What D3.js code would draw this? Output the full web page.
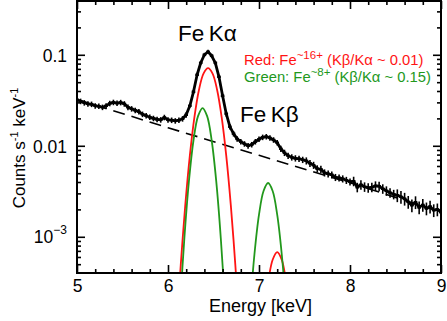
<!DOCTYPE html>
<html><head><meta charset="utf-8">
<script src="https://cdn.jsdelivr.net/npm/d3@7"></script>
<style>
body{margin:0;background:#fff;}
svg{display:block;font-family:"Liberation Sans",Arial,Helvetica,sans-serif;}
</style></head><body>
<svg id="c" width="447" height="321"></svg>
<script>
// ---- data ----
const xTicks = [5, 6, 7, 8, 9];
const xMinor = [5.2,5.4,5.6,5.8,6.2,6.4,6.6,6.8,7.2,7.4,7.6,7.8,8.2,8.4,8.6,8.8];
const yTicks = [0.1, 0.01, 0.001];
const yMinor = [0.0005,0.0006,0.0007,0.0008,0.0009,0.002,0.003,0.004,0.005,0.006,0.007,0.008,0.009,
                0.02,0.03,0.04,0.05,0.06,0.07,0.08,0.09,0.2,0.3];

const spectrumE = [5.00,5.04,5.08,5.12,5.16,5.20,5.24,5.28,5.32,5.36,5.40,5.44,5.48,5.52,5.56,5.60,5.64,5.68,5.72,5.76,
  5.80,5.84,5.88,5.92,5.96,6.00,6.04,6.08,6.12,6.16,6.20,6.24,6.28,6.32,6.36,6.40,6.44,6.48,6.52,6.56,
  6.60,6.64,6.68,6.72,6.76,6.80,6.84,6.88,6.92,6.96,7.00,7.04,7.08,7.12,7.16,7.20,7.24,7.28,7.32,7.36,
  7.40,7.44,7.48,7.52,7.56,7.60,7.64,7.68,7.72,7.76,7.80,7.84,7.88,7.92,7.96,8.00,8.04,8.08,8.12,8.16,
  8.20,8.24,8.28,8.32,8.36,8.40,8.44,8.48,8.52,8.56,8.60,8.64,8.68,8.72,8.76,8.80,8.84,8.88,8.92,8.96,9.00];
const spectrumCounts = [0.0320,0.0308,0.0297,0.0289,0.0286,0.0275,0.0272,0.0265,0.0275,0.0292,0.0300,0.0294,0.0299,0.0289,0.0265,0.0255,0.0245,0.0237,0.0222,0.0214,
  0.0206,0.0200,0.0195,0.0193,0.0205,0.0193,0.0191,0.0188,0.0191,0.0198,0.0219,0.0275,0.0392,0.0603,0.0817,0.100,0.108,0.0975,0.0817,0.0573,
  0.0354,0.0225,0.0162,0.0136,0.0119,0.0111,0.0105,0.0100,0.0103,0.0111,0.0118,0.0124,0.0126,0.0122,0.0116,0.0108,0.00927,0.00838,0.00777,0.00747,
  0.00729,0.00720,0.00702,0.00684,0.00642,0.00612,0.00560,0.00552,0.00505,0.00492,0.00480,0.00450,0.00445,0.00434,0.00418,0.00402,0.00408,0.00350,0.00373,0.00354,
  0.00346,0.00350,0.00363,0.00360,0.00337,0.00320,0.00305,0.00293,0.00286,0.00275,0.00262,0.00242,0.00222,0.00240,0.00210,0.00224,0.00205,0.00215,0.00196,0.00200,0.00186];
const spectrumRelErr = [0.07,0.07,0.07,0.07,0.07,0.07,0.07,0.07,0.07,0.07,0.07,0.07,0.07,0.07,0.07,0.07,0.07,0.07,0.07,0.07,
  0.07,0.07,0.07,0.07,0.07,0.07,0.07,0.07,0.07,0.07,0.07,0.05,0.05,0.05,0.05,0.05,0.05,0.05,0.05,0.05,
  0.05,0.07,0.07,0.07,0.07,0.07,0.07,0.07,0.07,0.07,0.07,0.07,0.07,0.07,0.07,0.07,0.08,0.08,0.08,0.08,
  0.08,0.08,0.08,0.09,0.09,0.09,0.09,0.09,0.09,0.09,0.09,0.09,0.09,0.09,0.09,0.09,0.12,0.12,0.12,0.12,
  0.12,0.12,0.12,0.12,0.12,0.12,0.12,0.12,0.16,0.16,0.16,0.16,0.16,0.16,0.16,0.16,0.16,0.16,0.16,0.16,0.16];

const continuumE = [5, 6, 7, 8, 9];
const continuumValues = [0.0323, 0.0158, 0.00785, 0.00392, 0.00188];

const redKaE = [6.10,6.14,6.19,6.24,6.29,6.34,6.39,6.44,6.49,6.54,6.59,6.64,6.69,6.74,6.78];
const redKaValues = [0.000118,0.000488,0.00224,0.00778,0.0205,0.0410,0.0622,0.0714,0.0622,0.0410,0.0205,0.00778,0.00224,0.000488,0.000118];
const greenKaE = [6.11,6.13,6.18,6.23,6.28,6.33,6.38,6.43,6.48,6.53,6.58,6.63,6.65];
const greenKaValues = [0.000065,0.000153,0.000971,0.00409,0.01143,0.02117,0.026,0.02117,0.01143,0.00409,0.000971,0.000153,0.000065];
const greenKbE = [6.88,6.90,6.95,7.00,7.05,7.10,7.15,7.20,7.25,7.30,7.32];
const greenKbValues = [0.0000807,0.000158,0.000643,0.00175,0.00319,0.0039,0.00319,0.00175,0.000643,0.000158,0.0000807];
const redKbE = [7.05,7.10,7.15,7.20,7.25,7.30,7.35];
const redKbValues = [0.000117,0.000311,0.00056,0.00068,0.00056,0.000311,0.000117];

const RED = "#ff1414", GREEN = "#22981c";

// ---- chart ----
const svg = d3.select("#c");
const x = d3.scaleLinear().domain([5, 9]).range([77, 441]);
const y = d3.scaleLog().domain([4e-4, 0.4]).range([273, 0]);

svg.append("defs").append("clipPath").attr("id","clip")
  .append("rect").attr("x",77).attr("y",1).attr("width",364).attr("height",272);

const plot = svg.append("g").attr("clip-path","url(#clip)");
const zip = (E, V) => E.map((e,i)=>[e, V[i]]);
const line = d3.line().x(d=>x(d[0])).y(d=>y(d[1]));
const smooth = d3.line().x(d=>x(d[0])).y(d=>y(d[1])).curve(d3.curveCatmullRom.alpha(0.5));

plot.append("path").datum(zip(continuumE, continuumValues)).attr("d", line)
  .attr("fill","none").attr("stroke","#000").attr("stroke-width",1.6).attr("stroke-dasharray","12,7");

[[redKaE, redKaValues, RED],[redKbE, redKbValues, RED],[greenKaE, greenKaValues, GREEN],[greenKbE, greenKbValues, GREEN]]
  .forEach(([E,V,c]) => plot.append("path").datum(zip(E,V)).attr("d", smooth)
    .attr("fill","none").attr("stroke",c).attr("stroke-width",1.8));

const spec = spectrumE.map((e,i)=>({e, v: spectrumCounts[i], r: spectrumRelErr[i]}));
plot.append("path").datum(spec.map(d=>[d.e,d.v])).attr("d", line)
  .attr("fill","none").attr("stroke","#000").attr("stroke-width",2.8).attr("stroke-linejoin","round");
plot.selectAll(".eb").data(spec).join("line").attr("class","eb")
  .attr("x1",d=>x(d.e)).attr("x2",d=>x(d.e))
  .attr("y1",d=>y(d.v*(1-d.r))).attr("y2",d=>y(d.v*(1+d.r)))
  .attr("stroke","#000").attr("stroke-width",1.6);
plot.selectAll(".hb").data(spec).join("line").attr("class","hb")
  .attr("x1",d=>x(d.e-0.02)).attr("x2",d=>x(d.e+0.02))
  .attr("y1",d=>y(d.v)).attr("y2",d=>y(d.v))
  .attr("stroke","#000").attr("stroke-width",2.4);

// axes
function styleAxis(g){
  g.select(".domain").remove();
  g.attr("font-family",null).attr("font-size",null);
  g.selectAll(".tick line").attr("stroke","#000").attr("stroke-width",1.6);
  g.selectAll("text").attr("fill","#000").attr("font-size",17.5);
}
const fmtX = d3.format("d");
svg.append("g").attr("transform","translate(0,273)")
  .call(d3.axisBottom(x).tickValues(xTicks).tickSize(-8).tickPadding(7).tickFormat(fmtX)).call(styleAxis);
svg.append("g").attr("transform","translate(0,273)")
  .call(d3.axisBottom(x).tickValues(xMinor).tickSize(-4).tickFormat("")).call(styleAxis);
svg.append("g").attr("transform","translate(0,1)")
  .call(d3.axisTop(x).tickValues(xTicks).tickSize(-8).tickFormat("")).call(styleAxis);
svg.append("g").attr("transform","translate(0,1)")
  .call(d3.axisTop(x).tickValues(xMinor).tickSize(-4).tickFormat("")).call(styleAxis);

const gy = svg.append("g").attr("transform","translate(77,0)")
  .call(d3.axisLeft(y).tickValues(yTicks).tickSize(-8).tickPadding(10).tickFormat(d => d === 0.001 ? "" : String(d)))
  .call(styleAxis);
gy.selectAll("text").attr("dy","0.4em");
gy.selectAll(".tick").filter(d => d === 0.001).select("text")
  .call(t => { t.append("tspan").text("10").attr("dy","0.3em");
               t.append("tspan").text("\u22123").attr("font-size",12).attr("dy","-0.75em"); });
svg.append("g").attr("transform","translate(77,0)")
  .call(d3.axisLeft(y).tickValues(yMinor).tickSize(-4).tickFormat("")).call(styleAxis);
svg.append("g").attr("transform","translate(441,0)")
  .call(d3.axisRight(y).tickValues(yTicks).tickSize(-8).tickFormat("")).call(styleAxis);
svg.append("g").attr("transform","translate(441,0)")
  .call(d3.axisRight(y).tickValues(yMinor).tickSize(-4).tickFormat("")).call(styleAxis);

// frame
svg.append("rect").attr("x",x(5)).attr("y",1).attr("width",x(9)-x(5)).attr("height",y(4e-4)-1)
  .attr("fill","none").attr("stroke","#000").attr("stroke-width",2);

// axis titles
svg.append("text").attr("x",260.5).attr("y",312).attr("text-anchor","middle").attr("font-size",18)
  .text("Energy [keV]");
const yt = svg.append("text").attr("transform","translate(25,148) rotate(-90)").attr("text-anchor","middle").attr("font-size",17);
yt.append("tspan").text("Counts s");
yt.append("tspan").text("-1").attr("font-size",11).attr("dy",-7);
yt.append("tspan").text(" keV").attr("dy",7);
yt.append("tspan").text("-1").attr("font-size",11).attr("dy",-7);

// annotations
svg.append("text").attr("x",178).attr("y",41).attr("font-size",22.5).text("Fe\u2009K\u03b1");
svg.append("text").attr("x",240).attr("y",122).attr("font-size",22.5).text("Fe\u2009K\u03b2");

function legendLine(yy, name, ion, ratio, color){
  const t = svg.append("text").attr("x",244).attr("y",yy).attr("font-size",14.8).attr("fill",color);
  t.append("tspan").text(name + ": Fe");
  t.append("tspan").text(ion).attr("font-size",11.5).attr("dy",-6);
  t.append("tspan").text(" (K\u03b2/K\u03b1 ~ " + ratio + ")").attr("dy",6);
}
legendLine(64.5, "Red", "~16+", "0.01", RED);
legendLine(82, "Green", "~8+", "0.15", GREEN);
</script>
</body></html>
